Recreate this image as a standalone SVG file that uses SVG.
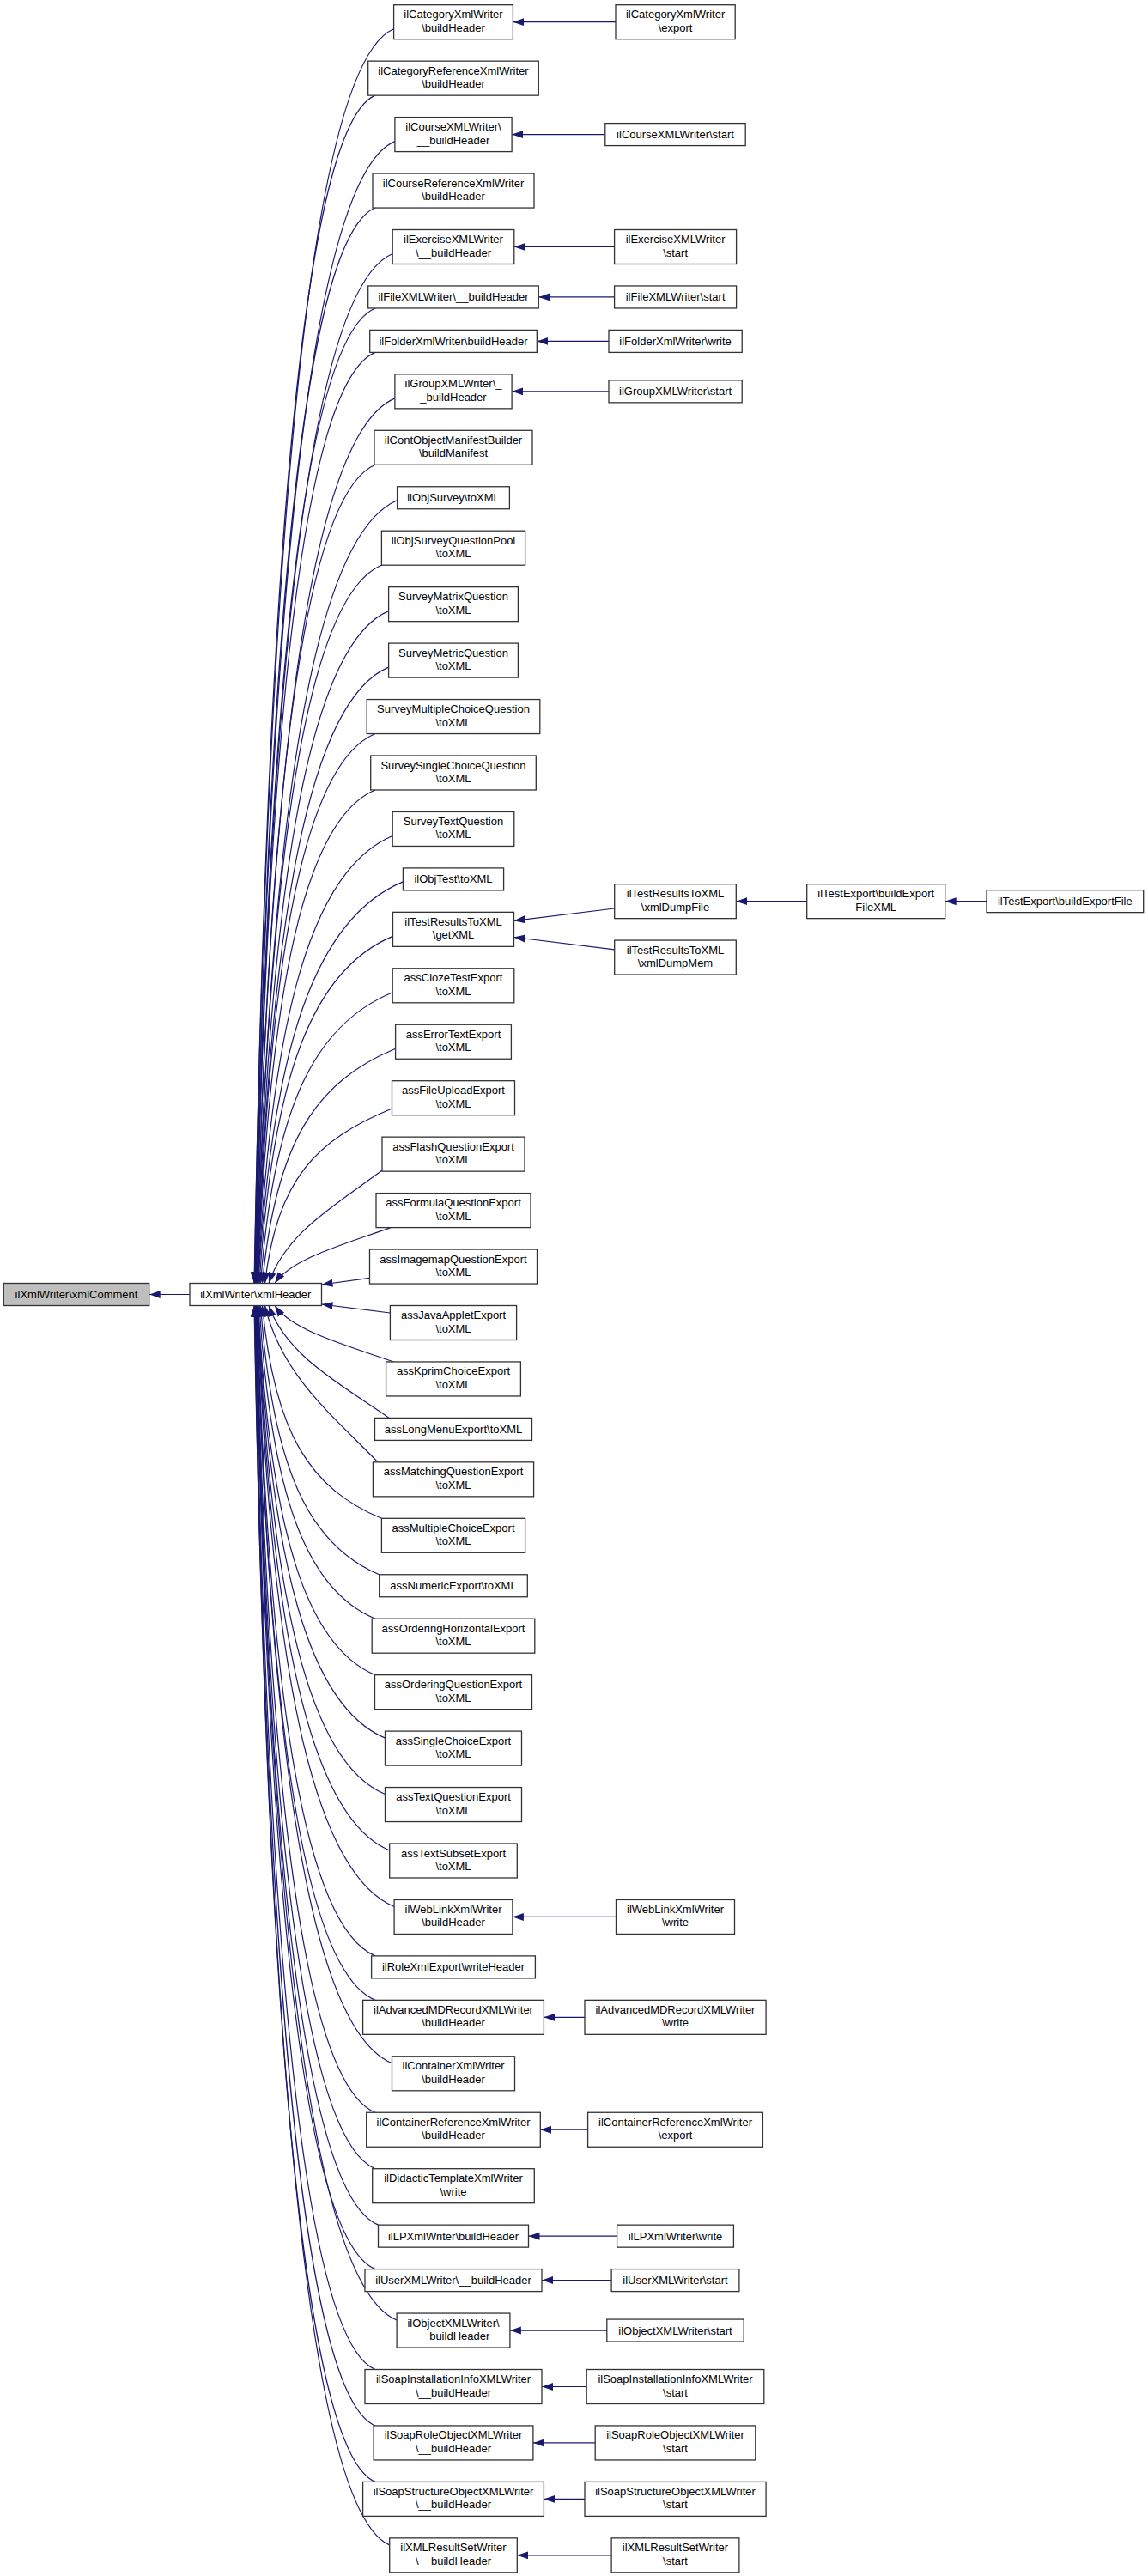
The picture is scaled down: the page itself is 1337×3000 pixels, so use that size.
<svg xmlns="http://www.w3.org/2000/svg" width="1337" height="3000" viewBox="0 0 1337 3000">
<defs>
<marker id="ah" markerUnits="userSpaceOnUse" viewBox="0 0 13 10" refX="13" refY="5" markerWidth="13" markerHeight="10" orient="auto"><path d="M0,0.5 L13,5 L0,9.5 z" fill="#191970"/></marker>
</defs>
<style>
.n rect{fill:#ffffff;stroke:#333333;stroke-width:1.3}
.g rect{fill:#bfbfbf;stroke:#333333;stroke-width:1.3}
text{font-family:"Liberation Sans",Arial,Helvetica,sans-serif;font-size:13px;text-anchor:middle;fill:#000000}
.e path{fill:none;stroke:#191970;stroke-width:1.2;marker-end:url(#ah)}
</style>
<rect x="0" y="0" width="1337" height="3000" fill="#ffffff"/>
<g id="connectors" class="e">
<path d="M221,1507.5 L173.7,1507.5"/>
<path d="M458.6,33.7 C361,74.35 312.3,618 296,1494.5"/>
<path d="M437,111.15 C352.6,146.3 310.4,664.5 296.3,1494.5"/>
<path d="M459.9,164.6 C361.9,205.4 312.9,696.6 296.6,1494.5"/>
<path d="M437,242.05 C352.9,277.1 310.9,743 296.9,1494.5"/>
<path d="M457.2,295.5 C361.2,335.5 313.2,775.1 297.2,1494.5"/>
<path d="M437,358.95 C353.3,393.8 311.45,813.2 297.5,1494.5"/>
<path d="M437,410.4 C353.5,445.2 311.7,844 297.8,1494.5"/>
<path d="M459.9,463.85 C362.8,504.3 314.3,876.1 298.1,1494.5"/>
<path d="M437,541.3 C353.8,575.95 312.3,922.6 298.4,1494.5"/>
<path d="M462.6,582.75 C364.3,623.7 315.1,947.5 298.7,1494.5"/>
<path d="M444.4,658.2 C357.2,694.55 313.5,992.7 299,1494.5"/>
<path d="M452.6,711.65 C360.6,750 314.6,1024.8 299.3,1494.5"/>
<path d="M452.6,777.1 C360.8,815.35 314.9,1064.1 299.6,1494.5"/>
<path d="M437,854.55 C354.7,888.8 313.6,1110.5 299.9,1494.5"/>
<path d="M437,920 C354.9,954.2 313.9,1149.8 300.2,1494.5"/>
<path d="M457.2,973.45 C363.2,1012.6 316.2,1181.9 300.5,1494.5"/>
<path d="M469.4,1026.9 C368.2,1069.05 317.7,1213.9 300.8,1494.5"/>
<path d="M457.5,1090.35 C364.2,1129.2 317.55,1252 302,1494.5"/>
<path d="M457.2,1155.8 C365,1194.2 318.9,1291.3 303.5,1494.5"/>
<path d="M460.6,1221.25 C367.5,1260 321,1330.5 305.5,1494.5"/>
<path d="M456.5,1291 C367.7,1328 323.3,1372.4 308.5,1494.5"/>
<path d="M445,1363 C392.2,1402.45 332.8,1435.3 313,1494.5"/>
<path d="M455,1429.6 C401,1449.1 340.25,1465.3 320,1494.5"/>
<path d="M430.5,1488.3 L374.5,1496"/>
<path d="M454.4,1529 L374.5,1519"/>
<path d="M458.3,1585.95 C403,1566.3 340.7,1550 320,1520.5"/>
<path d="M453.3,1651.4 C397.2,1612.1 334,1579.4 313,1520.5"/>
<path d="M440,1702.85 C387.4,1648.15 328.2,1602.6 308.5,1520.5"/>
<path d="M444.4,1768.3 C361.1,1733.6 319.4,1669.2 305.5,1520.5"/>
<path d="M441.7,1833.75 C358.8,1799.2 317.3,1708.45 303.5,1520.5"/>
<path d="M437,1885.2 C356,1851.45 315.5,1739.3 302,1520.5"/>
<path d="M437,1950.65 C355.3,1916.6 314.4,1778.6 300.8,1520.5"/>
<path d="M448.5,2024.1 C359.7,1987.1 315.3,1822.7 300.5,1520.5"/>
<path d="M448.5,2089.55 C359.5,2052.5 315,1861.9 300.2,1520.5"/>
<path d="M453.7,2155 C361.4,2116.55 315.3,1901.2 299.9,1520.5"/>
<path d="M459.1,2220.45 C363.4,2180.6 315.55,1940.5 299.6,1520.5"/>
<path d="M437,2277.9 C354.4,2243.5 313.1,1974.9 299.3,1520.5"/>
<path d="M437,2329.35 C354.2,2294.85 312.8,2005.8 299,1520.5"/>
<path d="M456.5,2402.8 C361.8,2363.35 314.5,2049.9 298.7,1520.5"/>
<path d="M437,2460.25 C353.8,2425.6 312.3,2084.35 298.4,1520.5"/>
<path d="M437,2525.7 C353.7,2491 312,2123.6 298.1,1520.5"/>
<path d="M440.5,2591.15 C354.9,2555.5 312.1,2162.9 297.8,1520.5"/>
<path d="M437,2642.6 C353.3,2607.7 311.45,2193.8 297.5,1520.5"/>
<path d="M462.1,2702.05 C363.2,2660.8 313.7,2229.4 297.2,1520.5"/>
<path d="M437,2759.5 C352.9,2724.5 310.9,2263.9 296.9,1520.5"/>
<path d="M437,2824.95 C352.8,2789.85 310.6,2303.2 296.6,1520.5"/>
<path d="M437,2890.4 C352.6,2855.2 310.4,2342.4 296.3,1520.5"/>
<path d="M453.7,2963.85 C359.1,2924.4 311.8,2386.5 296,1520.5"/>
<path d="M717,25.7 L597.4,25.7"/>
<path d="M704.8,156.6 L596.1,156.6"/>
<path d="M715.6,287.5 L598.8,287.5"/>
<path d="M715.6,345.95 L627.3,345.95"/>
<path d="M709,397.4 L625.3,397.4"/>
<path d="M709,455.85 L596.1,455.85"/>
<path d="M715.7,1058 L598.5,1072.3"/>
<path d="M715.7,1105.8 L598.5,1091.5"/>
<path d="M939.7,1049.65 L857.3,1049.65"/>
<path d="M1149,1049.65 L1100.7,1049.65"/>
<path d="M717.5,2232.45 L596.9,2232.45"/>
<path d="M681,2349.35 L633.4,2349.35"/>
<path d="M684.6,2480.25 L629.3,2480.25"/>
<path d="M718.6,2604.15 L615.5,2604.15"/>
<path d="M712.1,2655.6 L631,2655.6"/>
<path d="M706.8,2714.05 L593.9,2714.05"/>
<path d="M683.2,2779.5 L631,2779.5"/>
<path d="M693.2,2844.95 L620.9,2844.95"/>
<path d="M681,2910.4 L633.4,2910.4"/>
<path d="M712.1,2975.85 L602.3,2975.85"/>
</g>
<g id="xmlComment" class="g"><rect x="4.3" y="1494.5" width="169.4" height="26"/><text x="89" y="1512">ilXmlWriter\xmlComment</text></g>
<g id="xmlHeader" class="n"><rect x="221" y="1494.5" width="153.5" height="26"/><text x="297.75" y="1512">ilXmlWriter\xmlHeader</text></g>
<g id="n1" class="n"><rect x="458.6" y="5.7" width="138.8" height="40"/><text x="528" y="21.2">ilCategoryXmlWriter</text><text x="528" y="36.7">\buildHeader</text></g>
<g id="n2" class="n"><rect x="428.7" y="71.15" width="198.6" height="40"/><text x="528" y="86.65">ilCategoryReferenceXmlWriter</text><text x="528" y="102.15">\buildHeader</text></g>
<g id="n3" class="n"><rect x="459.9" y="136.6" width="136.2" height="40"/><text x="528" y="152.1">ilCourseXMLWriter\</text><text x="528" y="167.6">__buildHeader</text></g>
<g id="n4" class="n"><rect x="434" y="202.05" width="188" height="40"/><text x="528" y="217.55">ilCourseReferenceXmlWriter</text><text x="528" y="233.05">\buildHeader</text></g>
<g id="n5" class="n"><rect x="457.2" y="267.5" width="141.6" height="40"/><text x="528" y="283">ilExerciseXMLWriter</text><text x="528" y="298.5">\__buildHeader</text></g>
<g id="n6" class="n"><rect x="428.7" y="332.95" width="198.6" height="26"/><text x="528" y="350.45">ilFileXMLWriter\__buildHeader</text></g>
<g id="n7" class="n"><rect x="430.7" y="384.4" width="194.6" height="26"/><text x="528" y="401.9">ilFolderXmlWriter\buildHeader</text></g>
<g id="n8" class="n"><rect x="459.9" y="435.85" width="136.2" height="40"/><text x="528" y="451.35">ilGroupXMLWriter\_</text><text x="528" y="466.85">_buildHeader</text></g>
<g id="n9" class="n"><rect x="436" y="501.3" width="184" height="40"/><text x="528" y="516.8">ilContObjectManifestBuilder</text><text x="528" y="532.3">\buildManifest</text></g>
<g id="n10" class="n"><rect x="462.6" y="566.75" width="130.8" height="26"/><text x="528" y="584.25">ilObjSurvey\toXML</text></g>
<g id="n11" class="n"><rect x="444.4" y="618.2" width="167.2" height="40"/><text x="528" y="633.7">ilObjSurveyQuestionPool</text><text x="528" y="649.2">\toXML</text></g>
<g id="n12" class="n"><rect x="452.6" y="683.65" width="150.8" height="40"/><text x="528" y="699.15">SurveyMatrixQuestion</text><text x="528" y="714.65">\toXML</text></g>
<g id="n13" class="n"><rect x="452.6" y="749.1" width="150.8" height="40"/><text x="528" y="764.6">SurveyMetricQuestion</text><text x="528" y="780.1">\toXML</text></g>
<g id="n14" class="n"><rect x="427.2" y="814.55" width="201.6" height="40"/><text x="528" y="830.05">SurveyMultipleChoiceQuestion</text><text x="528" y="845.55">\toXML</text></g>
<g id="n15" class="n"><rect x="431.7" y="880" width="192.6" height="40"/><text x="528" y="895.5">SurveySingleChoiceQuestion</text><text x="528" y="911">\toXML</text></g>
<g id="n16" class="n"><rect x="457.2" y="945.45" width="141.6" height="40"/><text x="528" y="960.95">SurveyTextQuestion</text><text x="528" y="976.45">\toXML</text></g>
<g id="n17" class="n"><rect x="469.4" y="1010.9" width="117.2" height="26"/><text x="528" y="1028.4">ilObjTest\toXML</text></g>
<g id="n18" class="n"><rect x="457.5" y="1062.35" width="141" height="40"/><text x="528" y="1077.85">ilTestResultsToXML</text><text x="528" y="1093.35">\getXML</text></g>
<g id="n19" class="n"><rect x="457.2" y="1127.8" width="141.6" height="40"/><text x="528" y="1143.3">assClozeTestExport</text><text x="528" y="1158.8">\toXML</text></g>
<g id="n20" class="n"><rect x="460.6" y="1193.25" width="134.8" height="40"/><text x="528" y="1208.75">assErrorTextExport</text><text x="528" y="1224.25">\toXML</text></g>
<g id="n21" class="n"><rect x="456.5" y="1258.7" width="143" height="40"/><text x="528" y="1274.2">assFileUploadExport</text><text x="528" y="1289.7">\toXML</text></g>
<g id="n22" class="n"><rect x="445" y="1324.15" width="166" height="40"/><text x="528" y="1339.65">assFlashQuestionExport</text><text x="528" y="1355.15">\toXML</text></g>
<g id="n23" class="n"><rect x="438" y="1389.6" width="180" height="40"/><text x="528" y="1405.1">assFormulaQuestionExport</text><text x="528" y="1420.6">\toXML</text></g>
<g id="n24" class="n"><rect x="430.5" y="1455.05" width="195" height="40"/><text x="528" y="1470.55">assImagemapQuestionExport</text><text x="528" y="1486.05">\toXML</text></g>
<g id="n25" class="n"><rect x="454.4" y="1520.5" width="147.2" height="40"/><text x="528" y="1536">assJavaAppletExport</text><text x="528" y="1551.5">\toXML</text></g>
<g id="n26" class="n"><rect x="449.6" y="1585.95" width="156.8" height="40"/><text x="528" y="1601.45">assKprimChoiceExport</text><text x="528" y="1616.95">\toXML</text></g>
<g id="n27" class="n"><rect x="436.5" y="1651.4" width="183" height="26"/><text x="528" y="1668.9">assLongMenuExport\toXML</text></g>
<g id="n28" class="n"><rect x="434.4" y="1702.85" width="187.2" height="40"/><text x="528" y="1718.35">assMatchingQuestionExport</text><text x="528" y="1733.85">\toXML</text></g>
<g id="n29" class="n"><rect x="444.4" y="1768.3" width="167.2" height="40"/><text x="528" y="1783.8">assMultipleChoiceExport</text><text x="528" y="1799.3">\toXML</text></g>
<g id="n30" class="n"><rect x="441.7" y="1833.75" width="172.6" height="26"/><text x="528" y="1851.25">assNumericExport\toXML</text></g>
<g id="n31" class="n"><rect x="433.2" y="1885.2" width="189.6" height="40"/><text x="528" y="1900.7">assOrderingHorizontalExport</text><text x="528" y="1916.2">\toXML</text></g>
<g id="n32" class="n"><rect x="436.5" y="1950.65" width="183" height="40"/><text x="528" y="1966.15">assOrderingQuestionExport</text><text x="528" y="1981.65">\toXML</text></g>
<g id="n33" class="n"><rect x="448.5" y="2016.1" width="159" height="40"/><text x="528" y="2031.6">assSingleChoiceExport</text><text x="528" y="2047.1">\toXML</text></g>
<g id="n34" class="n"><rect x="448.5" y="2081.55" width="159" height="40"/><text x="528" y="2097.05">assTextQuestionExport</text><text x="528" y="2112.55">\toXML</text></g>
<g id="n35" class="n"><rect x="453.7" y="2147" width="148.6" height="40"/><text x="528" y="2162.5">assTextSubsetExport</text><text x="528" y="2178">\toXML</text></g>
<g id="n36" class="n"><rect x="459.1" y="2212.45" width="137.8" height="40"/><text x="528" y="2227.95">ilWebLinkXmlWriter</text><text x="528" y="2243.45">\buildHeader</text></g>
<g id="n37" class="n"><rect x="432.6" y="2277.9" width="190.8" height="26"/><text x="528" y="2295.4">ilRoleXmlExport\writeHeader</text></g>
<g id="n38" class="n"><rect x="422.6" y="2329.35" width="210.8" height="40"/><text x="528" y="2344.85">ilAdvancedMDRecordXMLWriter</text><text x="528" y="2360.35">\buildHeader</text></g>
<g id="n39" class="n"><rect x="456.5" y="2394.8" width="143" height="40"/><text x="528" y="2410.3">ilContainerXmlWriter</text><text x="528" y="2425.8">\buildHeader</text></g>
<g id="n40" class="n"><rect x="426.7" y="2460.25" width="202.6" height="40"/><text x="528" y="2475.75">ilContainerReferenceXmlWriter</text><text x="528" y="2491.25">\buildHeader</text></g>
<g id="n41" class="n"><rect x="433.7" y="2525.7" width="188.6" height="40"/><text x="528" y="2541.2">ilDidacticTemplateXmlWriter</text><text x="528" y="2556.7">\write</text></g>
<g id="n42" class="n"><rect x="440.5" y="2591.15" width="175" height="26"/><text x="528" y="2608.65">ilLPXmlWriter\buildHeader</text></g>
<g id="n43" class="n"><rect x="425" y="2642.6" width="206" height="26"/><text x="528" y="2660.1">ilUserXMLWriter\__buildHeader</text></g>
<g id="n44" class="n"><rect x="462.1" y="2694.05" width="131.8" height="40"/><text x="528" y="2709.55">ilObjectXMLWriter\</text><text x="528" y="2725.05">__buildHeader</text></g>
<g id="n45" class="n"><rect x="425" y="2759.5" width="206" height="40"/><text x="528" y="2775">ilSoapInstallationInfoXMLWriter</text><text x="528" y="2790.5">\__buildHeader</text></g>
<g id="n46" class="n"><rect x="435.1" y="2824.95" width="185.8" height="40"/><text x="528" y="2840.45">ilSoapRoleObjectXMLWriter</text><text x="528" y="2855.95">\__buildHeader</text></g>
<g id="n47" class="n"><rect x="422.6" y="2890.4" width="210.8" height="40"/><text x="528" y="2905.9">ilSoapStructureObjectXMLWriter</text><text x="528" y="2921.4">\__buildHeader</text></g>
<g id="n48" class="n"><rect x="453.7" y="2955.85" width="148.6" height="40"/><text x="528" y="2971.35">ilXMLResultSetWriter</text><text x="528" y="2986.85">\__buildHeader</text></g>
<g id="r1" class="n"><rect x="717" y="5.7" width="139.2" height="40"/><text x="786.6" y="21.2">ilCategoryXmlWriter</text><text x="786.6" y="36.7">\export</text></g>
<g id="r3" class="n"><rect x="704.8" y="143.6" width="163.4" height="26"/><text x="786.5" y="161.1">ilCourseXMLWriter\start</text></g>
<g id="r5" class="n"><rect x="715.6" y="267.5" width="142" height="40"/><text x="786.6" y="283">ilExerciseXMLWriter</text><text x="786.6" y="298.5">\start</text></g>
<g id="r6" class="n"><rect x="715.6" y="332.95" width="142" height="26"/><text x="786.6" y="350.45">ilFileXMLWriter\start</text></g>
<g id="r7" class="n"><rect x="709" y="384.4" width="155.2" height="26"/><text x="786.6" y="401.9">ilFolderXmlWriter\write</text></g>
<g id="r8" class="n"><rect x="709" y="442.85" width="155.2" height="26"/><text x="786.6" y="460.35">ilGroupXMLWriter\start</text></g>
<g id="dumpfile" class="n"><rect x="715.7" y="1029.65" width="141.6" height="40"/><text x="786.5" y="1045.15">ilTestResultsToXML</text><text x="786.5" y="1060.65">\xmlDumpFile</text></g>
<g id="dumpmem" class="n"><rect x="715.7" y="1095.05" width="141.6" height="40"/><text x="786.5" y="1110.55">ilTestResultsToXML</text><text x="786.5" y="1126.05">\xmlDumpMem</text></g>
<g id="exportxml" class="n"><rect x="939.7" y="1029.65" width="161" height="40"/><text x="1020.2" y="1045.15">ilTestExport\buildExport</text><text x="1020.2" y="1060.65">FileXML</text></g>
<g id="exportfile" class="n"><rect x="1149" y="1036.65" width="182.7" height="26"/><text x="1240.35" y="1054.15">ilTestExport\buildExportFile</text></g>
<g id="r36" class="n"><rect x="717.5" y="2212.45" width="138" height="40"/><text x="786.5" y="2227.95">ilWebLinkXmlWriter</text><text x="786.5" y="2243.45">\write</text></g>
<g id="r38" class="n"><rect x="681" y="2329.35" width="211.1" height="40"/><text x="786.5" y="2344.85">ilAdvancedMDRecordXMLWriter</text><text x="786.5" y="2360.35">\write</text></g>
<g id="r40" class="n"><rect x="684.6" y="2460.25" width="203.8" height="40"/><text x="786.5" y="2475.75">ilContainerReferenceXmlWriter</text><text x="786.5" y="2491.25">\export</text></g>
<g id="r42" class="n"><rect x="718.6" y="2591.15" width="135.8" height="26"/><text x="786.5" y="2608.65">ilLPXmlWriter\write</text></g>
<g id="r43" class="n"><rect x="712.1" y="2642.6" width="148.8" height="26"/><text x="786.5" y="2660.1">ilUserXMLWriter\start</text></g>
<g id="r44" class="n"><rect x="706.8" y="2701.05" width="159.4" height="26"/><text x="786.5" y="2718.55">ilObjectXMLWriter\start</text></g>
<g id="r45" class="n"><rect x="683.2" y="2759.5" width="206.6" height="40"/><text x="786.5" y="2775">ilSoapInstallationInfoXMLWriter</text><text x="786.5" y="2790.5">\start</text></g>
<g id="r46" class="n"><rect x="693.2" y="2824.95" width="186.6" height="40"/><text x="786.5" y="2840.45">ilSoapRoleObjectXMLWriter</text><text x="786.5" y="2855.95">\start</text></g>
<g id="r47" class="n"><rect x="681" y="2890.4" width="211.1" height="40"/><text x="786.5" y="2905.9">ilSoapStructureObjectXMLWriter</text><text x="786.5" y="2921.4">\start</text></g>
<g id="r48" class="n"><rect x="712.1" y="2955.85" width="148.8" height="40"/><text x="786.5" y="2971.35">ilXMLResultSetWriter</text><text x="786.5" y="2986.85">\start</text></g>
</svg>
